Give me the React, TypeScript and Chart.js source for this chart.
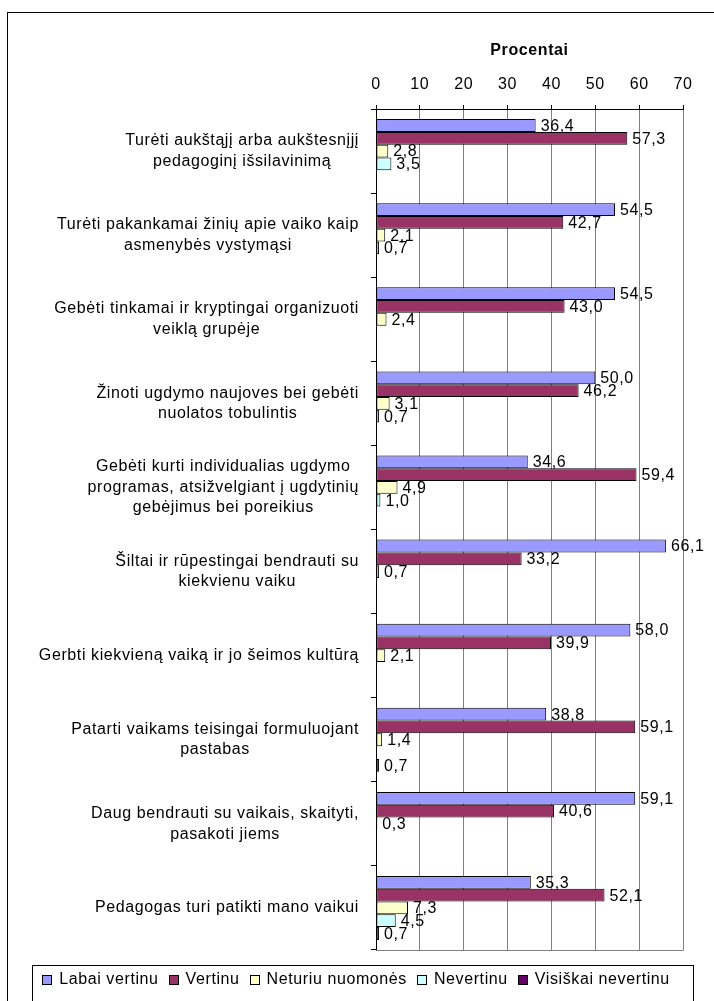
import React, { useEffect, useRef } from 'react';
import { Chart, registerables } from 'chart.js';

Chart.register(...registerables);

// ---------- DATA ----------
const CATEGORY_LINES: string[][] = [
  ['Turėti aukštąjį arba aukštesnįjį', 'pedagoginį išsilavinimą'],
  ['Turėti pakankamai žinių apie vaiko kaip', 'asmenybės vystymąsi'],
  ['Gebėti tinkamai ir kryptingai organizuoti', 'veiklą grupėje'],
  ['Žinoti ugdymo naujoves bei gebėti', 'nuolatos tobulintis'],
  ['Gebėti kurti individualias ugdymo', 'programas, atsižvelgiant į ugdytinių', 'gebėjimus bei poreikius'],
  ['Šiltai ir rūpestingai bendrauti su', 'kiekvienu vaiku'],
  ['Gerbti kiekvieną vaiką ir jo šeimos kultūrą'],
  ['Patarti vaikams teisingai formuluojant', 'pastabas'],
  ['Daug bendrauti su vaikais, skaityti,', 'pasakoti jiems'],
  ['Pedagogas turi patikti mano vaikui'],
];

const SERIES_NAMES = ['Labai vertinu', 'Vertinu', 'Neturiu nuomonės', 'Nevertinu', 'Visiškai nevertinu'];
const SERIES_COLORS = ['#9999FF', '#993366', '#FFFFCC', '#CCFFFF', '#660066'];

const LABAI_VERTINU = [36.4, 54.5, 54.5, 50.0, 34.6, 66.1, 58.0, 38.8, 59.1, 35.3];
const VERTINU = [57.3, 42.7, 43.0, 46.2, 59.4, 33.2, 39.9, 59.1, 40.6, 52.1];
const NETURIU_NUOMONES = [2.8, 2.1, 2.4, 3.1, 4.9, 0.7, 2.1, 1.4, 0.3, 7.3];
const NEVERTINU = [3.5, 0.7, null, 0.7, 1.0, null, null, null, null, 4.5];
const VISISKAI_NEVERTINU = [null, null, null, null, null, null, null, 0.7, null, 0.7];

const X_MIN = 0;
const X_MAX = 70;
const X_STEP = 10;
const AXIS_TITLE = 'Procentai';

// ---------- STYLE ----------
const FONT = "'Liberation Sans', Arial, sans-serif";
const FS = 16;
const LS = '0.6px';
const GRID = '#808080';

const fmt = (v: number) => v.toFixed(1).replace('.', ',');

export default function App() {
  const ref = useRef<HTMLCanvasElement>(null);

  useEffect(() => {
    const canvas = ref.current!;
    const seriesData = [LABAI_VERTINU, VERTINU, NETURIU_NUOMONES, NEVERTINU, VISISKAI_NEVERTINU];

    const spacingPlugin = {
      id: 'spacing',
      beforeLayout(chart: any) { chart.ctx.letterSpacing = LS; },
      beforeDraw(chart: any) { chart.ctx.letterSpacing = LS; },
    };

    const framePlugin = {
      id: 'frame',
      beforeDraw(chart: any) {
        const ctx = chart.ctx;
        ctx.save();
        ctx.fillStyle = '#fff';
        ctx.fillRect(0, 0, chart.width, chart.height);
        ctx.strokeStyle = '#000';
        ctx.lineWidth = 1;
        ctx.strokeRect(7.5, 12.5, chart.width + 20, chart.height + 20);
        ctx.restore();
      },
      beforeDatasetsDraw(chart: any) {
        const { ctx, chartArea } = chart;
        const { left, right, top, bottom } = chartArea;
        ctx.save();
        ctx.lineWidth = 1;
        ctx.strokeStyle = GRID;
        ctx.beginPath();
        ctx.moveTo(left, Math.round(bottom) + 0.5);
        ctx.lineTo(right + 0.5, Math.round(bottom) + 0.5);
        ctx.stroke();
        ctx.strokeStyle = '#000';
        ctx.beginPath();
        ctx.moveTo(Math.round(left) + 0.5, top);
        ctx.lineTo(Math.round(left) + 0.5, bottom);
        ctx.stroke();
        ctx.restore();
      },
      afterDatasetsDraw(chart: any) {
        const ctx = chart.ctx;
        ctx.save();
        ctx.letterSpacing = LS;
        ctx.font = `${FS}px ${FONT}`;
        ctx.fillStyle = '#000';
        ctx.textAlign = 'left';
        ctx.textBaseline = 'middle';
        chart.data.datasets.forEach((ds: any, di: number) => {
          const meta = chart.getDatasetMeta(di);
          meta.data.forEach((bar: any, i: number) => {
            const v = ds.data[i];
            if (v == null || !isFinite(bar.x)) return;
            ctx.fillText(fmt(v), bar.x + 5, bar.y + 1);
          });
        });
        ctx.restore();
      },
      afterDraw(chart: any) {
        const ctx = chart.ctx;
        const yScale = chart.scales.y;
        ctx.save();
        ctx.letterSpacing = LS;
        ctx.font = `${FS}px ${FONT}`;
        ctx.fillStyle = '#000';
        ctx.textBaseline = 'middle';
        ctx.textAlign = 'center';
        // category labels: block right-aligned to axis, lines centered in block
        const lineH = 20.5;
        const rightEdge = 359;
        CATEGORY_LINES.forEach((lines, i) => {
          const cy = yScale.getPixelForValue(i);
          const blockW = Math.max(...lines.map((l) => ctx.measureText(l).width));
          const cx = rightEdge - blockW / 2;
          const y0 = cy - ((lines.length - 1) * lineH) / 2;
          lines.forEach((l, k) => ctx.fillText(l, cx, y0 + k * lineH));
        });

        // legend
        const markerW = 10;
        const gapText = 7;
        const gapItem = 10;
        const widths = chart.data.datasets.map((ds: any) => ctx.measureText(ds.label).width);
        const total = widths.reduce((a: number, w: number) => a + markerW + gapText + w, 0) + gapItem * (widths.length - 1);
        let x = 356 - total / 2;
        const ly = 980;
        ctx.textAlign = 'left';
        chart.data.datasets.forEach((ds: any, di: number) => {
          ctx.fillStyle = ds.backgroundColor;
          ctx.fillRect(Math.round(x) + 0.5, ly - 4.5, markerW - 1, markerW - 1);
          ctx.strokeStyle = '#000';
          ctx.lineWidth = 1;
          ctx.strokeRect(Math.round(x) + 0.5, ly - 4.5, markerW - 1, markerW - 1);
          ctx.fillStyle = '#000';
          ctx.fillText(ds.label, x + markerW + gapText, ly);
          x += markerW + gapText + widths[di] + gapItem;
        });
        // legend frame
        ctx.strokeStyle = '#000';
        ctx.lineWidth = 1;
        ctx.strokeRect(32.5, 965.5, 661, 60);
        ctx.restore();
      },
    };

    const chart = new Chart(canvas, {
      type: 'bar',
      data: {
        labels: CATEGORY_LINES.map((l) => l.join(' ')),
        datasets: SERIES_NAMES.map((name, i) => ({
          label: name,
          data: seriesData[i] as any,
          backgroundColor: SERIES_COLORS[i],
          borderColor: '#000',
          borderWidth: 1,
          borderSkipped: false,
          barPercentage: 1,
          categoryPercentage: 0.76,
        })),
      },
      options: {
        indexAxis: 'y',
        animation: false,
        responsive: false,
        devicePixelRatio: 1,
        layout: { padding: { top: 0, left: 0, right: 31, bottom: 51 } },
        font: { family: FONT, size: FS },
        plugins: {
          legend: { display: false },
          tooltip: { enabled: false },
        },
        scales: {
          x: {
            type: 'linear',
            position: 'top',
            min: X_MIN,
            max: X_MAX,
            ticks: { stepSize: X_STEP, color: '#000', padding: 11, font: { family: FONT, size: FS } },
            grid: { color: GRID, tickColor: '#000', tickLength: 4, lineWidth: 1 },
            border: { color: '#000', width: 1 },
            title: {
              display: true,
              text: AXIS_TITLE,
              color: '#000',
              font: { family: FONT, size: FS, weight: 'bold' },
              padding: { top: 41, bottom: 0 },
            },
            afterFit(scale: any) { scale.height = 109; },
          },
          y: {
            type: 'category',
            position: 'left',
            ticks: { display: false },
            grid: { display: true, drawOnChartArea: false, offset: true, color: '#000', tickLength: 5 },
            border: { color: '#000', width: 1 },
            afterFit(scale: any) { scale.width = 376; },
          },
        },
      },
      plugins: [spacingPlugin, framePlugin],
    } as any);

    return () => chart.destroy();
  }, []);

  return (
    <div style={{ position: 'absolute', left: 0, top: 0, width: 714, height: 1001 }}>
      <canvas ref={ref} width={714} height={1001} style={{ display: 'block', width: 714, height: 1001 }} />
    </div>
  );
}
